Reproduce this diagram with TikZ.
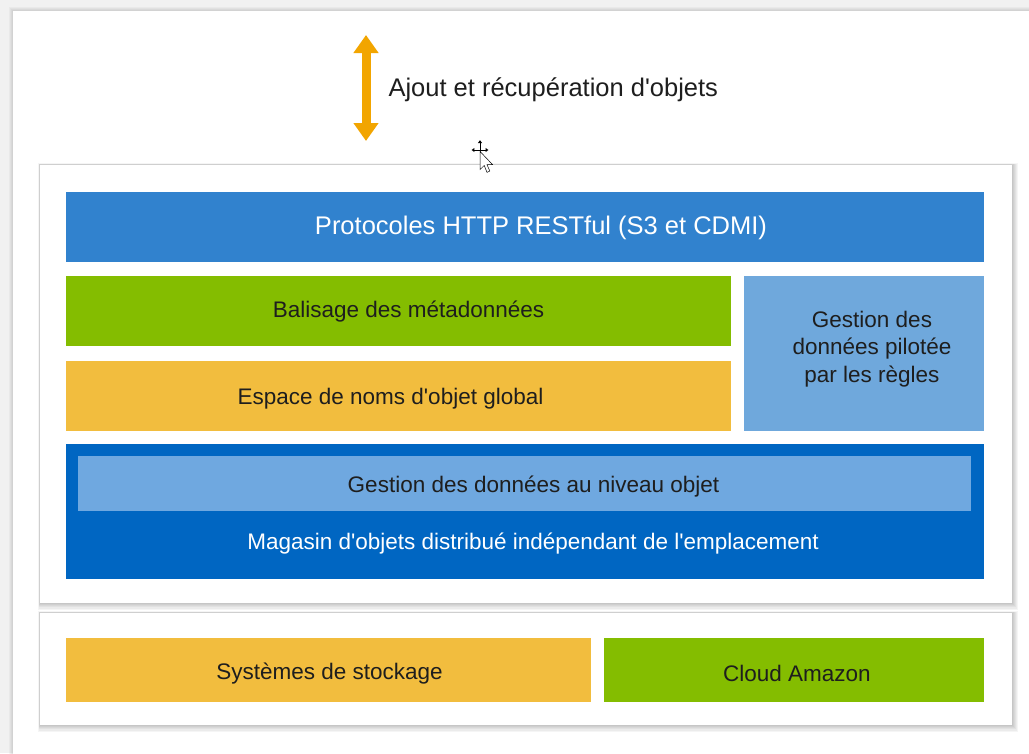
\documentclass[tikz,border=0pt]{standalone}
\usepackage{fontspec}
\setmainfont{Liberation Sans}
\usetikzlibrary{arrows.meta}
\definecolor{bgg}{HTML}{F1F1F1}
\definecolor{hblue}{HTML}{3182CE}
\definecolor{vgreen}{HTML}{84BD00}
\definecolor{vyellow}{HTML}{F2BD3E}
\definecolor{lblue}{HTML}{6FA8DC}
\definecolor{dblue}{HTML}{0066C2}
\definecolor{ilblue}{HTML}{6FA8E0}
\definecolor{txt}{HTML}{1E1E1E}
\definecolor{orng}{HTML}{F2A500}
\tikzset{
  blk/.style={anchor=north west, inner sep=0pt, outer sep=0pt, draw=none},
  lbl/.style={font=\fontsize{22.5}{26}\selectfont, text=txt, align=center},
  panel/.style={fill=white, draw=none},
}
\newcommand{\q}{\textquotesingle}
\newcommand{\panelshadow}[4]{%
  \foreach \k in {1,...,6}{
    \fill[black, opacity=0.04] (#1-\k*0.3,#2-\k*0.3) rectangle (#3+\k*1.0,#4+\k*1.1);
  }%
}
\begin{document}
\begin{tikzpicture}[x=1pt,y=-1pt]
\useasboundingbox (0,0) rectangle (1029,753);
\fill[bgg] (0,0) rectangle (1029,753);
% outer page
\foreach \k in {1,...,4}{\fill[black,opacity=0.03] (13-\k,11-\k) rectangle (1040,770);}
\fill[white] (13,11) rectangle (1040,770);
% panels
\panelshadow{40}{165}{1012}{603}
\fill[panel] (40,165) rectangle (1012,603);
\panelshadow{40}{613}{1012}{725}
\fill[panel] (40,613) rectangle (1012,725);
% boxes
\node[blk, fill=hblue, minimum width=918pt, minimum height=70pt] (http) at (66,192) {};
\node[lbl, text=white, font=\fontsize{25.5}{30}\selectfont, xshift=16pt, yshift=-1pt] at (http.center) {Protocoles HTTP RESTful (S3 et CDMI)};
\node[blk, fill=vgreen, minimum width=665pt, minimum height=70pt] (bal) at (66,276) {};
\node[lbl, xshift=10pt, yshift=-1pt] at (bal.center) {Balisage des métadonnées};
\node[blk, fill=vyellow, minimum width=665pt, minimum height=70pt] (esp) at (66,361) {};
\node[lbl, xshift=-8pt, yshift=-3pt] at (esp.center) {Espace de noms d\q objet global};
\node[blk, fill=lblue, minimum width=240pt, minimum height=155pt] (gest) at (744,276) {};
\node[lbl, font=\fontsize{22.5}{27.5}\selectfont] at (872,349) {Gestion des\\données pilotée\\par les règles};
\node[blk, fill=dblue, minimum width=918pt, minimum height=135pt] (mag) at (66,444) {};
\node[blk, fill=ilblue, minimum width=893pt, minimum height=55pt] (gno) at (78,456) {};
\node[lbl, xshift=9pt, yshift=-3pt] at (gno.center) {Gestion des données au niveau objet};
\node[lbl, text=white] (magt) at (533,544) {Magasin d\q objets distribué indépendant de l\q emplacement};
\node[blk, fill=vyellow, minimum width=525pt, minimum height=64pt] (sys) at (66,638) {};
\node[lbl, xshift=1pt, yshift=-4pt] at (sys.center) {Systèmes de stockage};
\node[blk, fill=vgreen, minimum width=380pt, minimum height=64pt] (aws) at (604,638) {};
\node[lbl, xshift=3pt, yshift=-3pt] at (aws.center) {Cloud Amazon};
% arrow
\coordinate (atop) at (366,35);
\coordinate (abot) at (366,141);
\draw[orng, line width=9pt, {Triangle[width=24pt,length=18pt]}-{Triangle[width=24pt,length=18pt]}] (atop) -- (abot);
\node[lbl, anchor=west, font=\fontsize{25.5}{30}\selectfont] (atxt) at (385,90) {Ajout et récupération d\q objets};
% cursor
\begin{scope}[shift={(480,150)}, scale=1.4, line width=0.6pt]
\draw[black] (-5,0) -- (5,0) (0,-6) -- (0,5);
\fill[black] (-6,0) -- (-4,-1.5) -- (-4,1.5) -- cycle;
\fill[black] (6,0) -- (4,-1.5) -- (4,1.5) -- cycle;
\fill[black] (0,-7) -- (-1.5,-5) -- (1.5,-5) -- cycle;
\draw[black, fill=white, line width=0.5pt] (0,1) -- (0,14) -- (3,11) -- (5,16) -- (7,15) -- (5,10.5) -- (9,10.5) -- cycle;
\end{scope}
\end{tikzpicture}
\end{document}
